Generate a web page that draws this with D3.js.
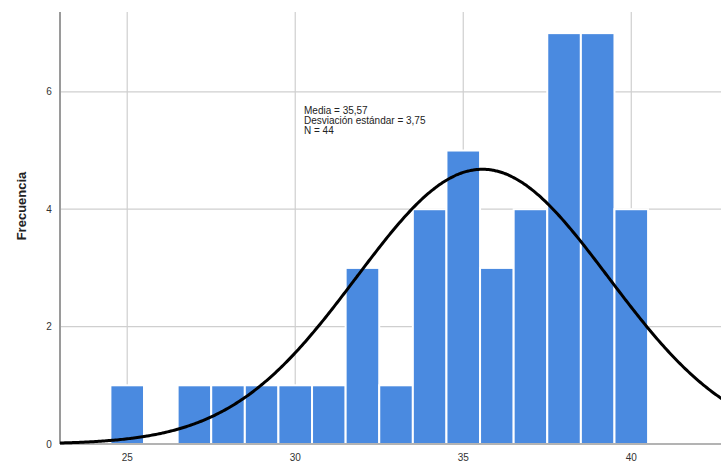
<!DOCTYPE html>
<html>
<head>
<meta charset="utf-8">
<script src="https://cdn.jsdelivr.net/npm/d3@7"></script>
<style>
html,body{margin:0;padding:0;background:#fff;}
svg{display:block;}
</style>
</head>
<body>
<svg id="chart" width="721" height="463"></svg>
<script>
const binCenters = [25, 26, 27, 28, 29, 30, 31, 32, 33, 34, 35, 36, 37, 38, 39, 40];
const counts     = [1, 0, 1, 1, 1, 1, 1, 3, 1, 4, 5, 3, 4, 7, 7, 4];
const xTicks = [25, 30, 35, 40];
const yTicks = [0, 2, 4, 6];
const statsLines = ["Media = 35,57", "Desviación estándar = 3,75", "N = 44"];
const mean = 35.57, sd = 3.75, n = 44, binWidth = 1;

const svg = d3.select("#chart");
const x = d3.scaleLinear().domain([23.0, 42.67]).range([60, 721]);
const y = d3.scaleLinear().domain([0, 7.36]).range([444, 12]);

// gridlines
svg.append("g").selectAll("line.h").data(yTicks.filter(d => d > 0)).join("line")
  .attr("x1", x(23.0)).attr("x2", 721)
  .attr("y1", d => y(d)).attr("y2", d => y(d))
  .attr("stroke", "#cfcfcf").attr("stroke-width", 1.2);
svg.append("g").selectAll("line.v").data(xTicks).join("line")
  .attr("x1", d => x(d)).attr("x2", d => x(d))
  .attr("y1", y(7.36)).attr("y2", y(0))
  .attr("stroke", "#cfcfcf").attr("stroke-width", 1.2);

// bars
svg.append("g").selectAll("rect").data(binCenters.map((c, i) => ({c, v: counts[i]})).filter(d => d.v > 0)).join("rect")
  .attr("x", d => x(d.c - binWidth / 2))
  .attr("width", d => x(d.c + binWidth / 2) - x(d.c - binWidth / 2))
  .attr("y", d => y(d.v))
  .attr("height", d => y(0) - y(d.v))
  .attr("fill", "#4a8ae0")
  .attr("stroke", "#ffffff").attr("stroke-width", 2);

// axes lines
svg.append("line").attr("x1", x(23.0)).attr("x2", x(23.0))
  .attr("y1", y(7.36)).attr("y2", y(0)).attr("stroke", "#9a9a9a").attr("stroke-width", 2);
svg.append("line").attr("x1", x(23.0)).attr("x2", 721)
  .attr("y1", y(0)).attr("y2", y(0)).attr("stroke", "#9a9a9a").attr("stroke-width", 1.5);

// normal curve
const pts = d3.range(23.0, 42.7, 0.05).map(v => [v, n * binWidth * Math.exp(-0.5 * ((v - mean) / sd) ** 2) / (sd * Math.sqrt(2 * Math.PI))]);
svg.append("path").datum(pts)
  .attr("d", d3.line().x(d => x(d[0])).y(d => y(d[1])).curve(d3.curveBasis))
  .attr("fill", "none").attr("stroke", "#000").attr("stroke-width", 3);

// tick labels
svg.append("g").selectAll("text").data(yTicks).join("text")
  .attr("x", 49).attr("y", d => y(d)).attr("dy", "0.35em")
  .attr("text-anchor", "middle")
  .attr("font-family", "Liberation Sans, Arial, sans-serif").attr("font-size", 10).attr("fill", "#333")
  .text(d => d);
svg.append("g").selectAll("text").data(xTicks).join("text")
  .attr("x", d => x(d)).attr("y", 457).attr("dy", "0.35em")
  .attr("text-anchor", "middle")
  .attr("font-family", "Liberation Sans, Arial, sans-serif").attr("font-size", 10).attr("fill", "#333")
  .text(d => d);

// y label
svg.append("text")
  .attr("transform", "translate(21,206) rotate(-90)")
  .attr("text-anchor", "middle").attr("dy", "0.35em")
  .attr("font-family", "Liberation Sans, Arial, sans-serif").attr("font-size", 13).attr("font-weight", "bold").attr("fill", "#222")
  .text("Frecuencia");

// stats text
svg.append("g").selectAll("text").data(statsLines).join("text")
  .attr("x", 304).attr("y", (d, i) => 110 + i * 10).attr("dy", "0.35em")
  .attr("font-family", "Liberation Sans, Arial, sans-serif").attr("font-size", 10).attr("fill", "#222")
  .text(d => d);
</script>
</body>
</html>
